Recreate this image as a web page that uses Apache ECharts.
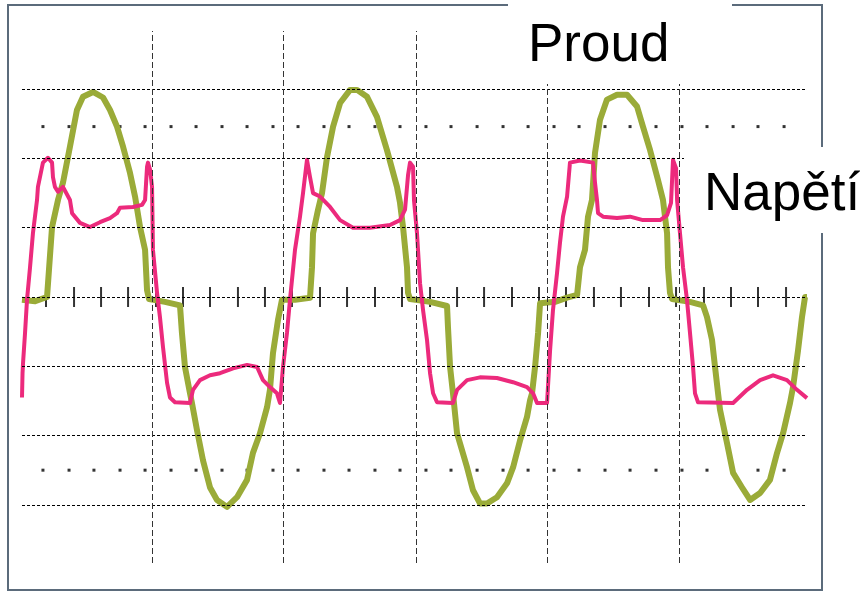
<!DOCTYPE html>
<html>
<head>
<meta charset="utf-8">
<script src="https://cdn.jsdelivr.net/npm/echarts@6/dist/echarts.min.js"></script>
<style>
  html, body { margin: 0; padding: 0; background: #fff; }
  #chart { width: 864px; height: 592px; }
</style>
</head>
<body>
<div id="chart"></div>
<script>
// osciloskop: x = časové dílky, y = napěťové dílky (střed = 0)
const gridRows = [-3, -2, -1, 0, 1, 2, 3]
const gridCols = [0.987, 1.981, 2.99, 3.992, 4.987]
const dotRows = [2.46, -2.5]
const dotCols = [0.159, 0.357, 0.546, 0.744, 0.934, 1.131, 1.321, 1.518, 1.708, 1.905,
  2.095, 2.292, 2.482, 2.679, 2.869, 3.066, 3.256, 3.454, 3.651, 3.841,
  4.038, 4.228, 4.425, 4.615, 4.812, 5.009, 5.199, 5.397, 5.586, 5.784]
const tickCols = [0.182, 0.395, 0.6, 0.805, 1.017, 1.222, 1.427, 1.639, 1.844, 2.049,
  2.262, 2.467, 2.679, 2.884, 3.097, 3.302, 3.507, 3.719, 3.924, 4.129,
  4.341, 4.546, 4.759, 4.964, 5.176, 5.381, 5.586, 5.799]

// Napětí (olivová)
const napeti = [
  [0, -0.04], [0.1, -0.06], [0.19, 0], [0.228, 1.01], [0.273, 1.40], [0.311, 1.65],
  [0.364, 2.17], [0.417, 2.70], [0.463, 2.89], [0.539, 2.96], [0.615, 2.88], [0.668, 2.70],
  [0.721, 2.46], [0.767, 2.17], [0.82, 1.79], [0.858, 1.45], [0.896, 1.01], [0.934, 0.68],
  [0.949, 0.10], [0.964, -0.03], [1.085, -0.07], [1.199, -0.12], [1.214, -0.52], [1.237, -1.01],
  [1.275, -1.39], [1.29, -1.53], [1.328, -1.92], [1.374, -2.36], [1.427, -2.75], [1.48, -2.93],
  [1.556, -3.03], [1.632, -2.89], [1.708, -2.64], [1.753, -2.25], [1.806, -1.97], [1.86, -1.59],
  [1.882, -1.34], [1.905, -0.81], [1.943, -0.33], [1.973, -0.04], [2.072, -0.04], [2.186, -0.01],
  [2.201, 0.43], [2.209, 0.92], [2.247, 1.26], [2.277, 1.50], [2.315, 2.02], [2.361, 2.46],
  [2.414, 2.80], [2.49, 2.99], [2.543, 2.99], [2.619, 2.89], [2.694, 2.60], [2.77, 2.12],
  [2.846, 1.59], [2.869, 1.36], [2.892, 1.01], [2.922, 0.43], [2.93, 0.06], [2.945, -0.03],
  [3.097, -0.07], [3.226, -0.13], [3.233, -0.43], [3.249, -1.01], [3.271, -1.39], [3.302, -1.97],
  [3.378, -2.46], [3.423, -2.79], [3.476, -2.98], [3.529, -2.98], [3.605, -2.89], [3.681, -2.69],
  [3.727, -2.46], [3.78, -2.07], [3.833, -1.73], [3.856, -1.49], [3.871, -1.39], [3.894, -1.01],
  [3.917, -0.52], [3.932, -0.09], [4.046, -0.07], [4.137, -0.01], [4.213, 0.03], [4.235, 0.43],
  [4.273, 0.68], [4.296, 1.16], [4.326, 1.40], [4.349, 2.08], [4.387, 2.56], [4.44, 2.85],
  [4.516, 2.92], [4.592, 2.92], [4.668, 2.75], [4.713, 2.46], [4.767, 2.12], [4.827, 1.69],
  [4.865, 1.40], [4.896, 0.92], [4.903, 0.43], [4.918, 0.06], [4.934, -0.03], [5.07, -0.07],
  [5.169, -0.12], [5.199, -0.29], [5.237, -0.62], [5.26, -1.01], [5.283, -1.39], [5.298, -1.63],
  [5.351, -2.11], [5.397, -2.54], [5.465, -2.75], [5.526, -2.93], [5.602, -2.83], [5.677, -2.64],
  [5.731, -2.25], [5.776, -1.97], [5.829, -1.53], [5.852, -1.30], [5.89, -0.77], [5.92, -0.29],
  [5.943, 0], [5.958, 0]
]

// Proud (růžová)
const proud = [
  [0, -1.45], [0.004, -1.10], [0.008, -0.95], [0.023, -0.52], [0.038, -0.04], [0.061, 0.43],
  [0.083, 0.92], [0.114, 1.40], [0.121, 1.59], [0.159, 1.94], [0.197, 2.01], [0.228, 1.94],
  [0.235, 1.73], [0.25, 1.59], [0.273, 1.52], [0.311, 1.59], [0.364, 1.40], [0.38, 1.21],
  [0.44, 1.07], [0.516, 1.01], [0.592, 1.08], [0.668, 1.14], [0.721, 1.21], [0.744, 1.29],
  [0.842, 1.30], [0.911, 1.33], [0.934, 1.40], [0.949, 1.88], [0.956, 1.94], [0.972, 1.84],
  [0.987, 1.59], [0.99, 1.21], [0.994, 0.68], [1.025, 0.06], [1.047, -0.29], [1.07, -0.72],
  [1.101, -1.24], [1.123, -1.45], [1.161, -1.52], [1.275, -1.53], [1.298, -1.34], [1.351, -1.20],
  [1.427, -1.13], [1.503, -1.10], [1.602, -1.03], [1.708, -0.98], [1.784, -1.01], [1.829, -1.20],
  [1.882, -1.30], [1.935, -1.39], [1.958, -1.53], [1.981, -1.01], [2.011, -0.52], [2.034, -0.04],
  [2.072, 0.68], [2.11, 1.16], [2.133, 1.50], [2.163, 1.98], [2.186, 1.73], [2.209, 1.50],
  [2.262, 1.45], [2.338, 1.30], [2.414, 1.11], [2.512, 1.00], [2.641, 1.00], [2.793, 1.04],
  [2.869, 1.11], [2.907, 1.26], [2.93, 1.76], [2.945, 1.94], [2.968, 1.88], [2.975, 1.40],
  [2.998, 0.92], [3.021, 0.20], [3.044, -0.19], [3.074, -0.62], [3.097, -1.10], [3.12, -1.39],
  [3.15, -1.52], [3.271, -1.53], [3.302, -1.34], [3.378, -1.20], [3.476, -1.16], [3.605, -1.17],
  [3.727, -1.23], [3.833, -1.30], [3.879, -1.39], [3.909, -1.53], [3.985, -1.53], [4.008, -0.77],
  [4.03, -0.19], [4.061, 0.35], [4.083, 0.78], [4.106, 1.16], [4.137, 1.45], [4.159, 1.94],
  [4.235, 1.97], [4.334, 1.94], [4.349, 1.65], [4.364, 1.40], [4.372, 1.21], [4.41, 1.16],
  [4.516, 1.14], [4.615, 1.16], [4.713, 1.11], [4.843, 1.11], [4.896, 1.18], [4.926, 1.36],
  [4.941, 1.98], [4.964, 1.86], [4.972, 1.40], [4.994, 0.92], [5.017, 0.43], [5.047, -0.04],
  [5.07, -0.52], [5.093, -1.01], [5.108, -1.39], [5.131, -1.52], [5.397, -1.53], [5.503, -1.34],
  [5.602, -1.20], [5.7, -1.13], [5.806, -1.20], [5.882, -1.34], [5.958, -1.46]
]

const COLOR_NAPETI = '#9aab38'
const COLOR_PROUD  = '#ec2a7c'
const COLOR_FRAME  = '#5b6b7b'

const dots = []
dotRows.forEach(y => dotCols.forEach(x => dots.push([x, y])))
const ticks = tickCols.map(x => [x, 0])

const chart = echarts.init(document.getElementById('chart'))

chart.setOption({
  animation: false,
  grid: { left: 22, top: 31, width: 785, height: 532 },
  xAxis: { type: 'value', min: 0, max: 5.958, show: false },
  yAxis: { type: 'value', min: -3.84, max: 3.84, show: false },
  series: [
    {
      // mřížka
      type: 'line',
      data: [],
      silent: true,
      markLine: {
        silent: true,
        symbol: 'none',
        label: { show: false },
        data: [
          ...gridRows.map(v => ({ yAxis: v, lineStyle: { color: '#000', width: 1, type: [3, 2] } })),
          ...gridCols.map(v => ({ xAxis: v, lineStyle: { color: '#333', width: 1, type: [6, 3] } })),
        ],
      },
    },
    {
      type: 'scatter',
      data: dots,
      symbol: 'rect',
      symbolSize: 3,
      itemStyle: { color: '#000' },
      silent: true,
    },
    {
      type: 'scatter',
      data: ticks,
      symbol: 'rect',
      symbolSize: [2, 20],
      itemStyle: { color: '#000' },
      silent: true,
    },
    {
      name: 'Napětí',
      type: 'line',
      data: napeti,
      symbol: 'none',
      lineStyle: { color: COLOR_NAPETI, width: 6, join: 'round' },
      silent: true,
    },
    {
      name: 'Proud',
      type: 'line',
      data: proud,
      symbol: 'none',
      lineStyle: { color: COLOR_PROUD, width: 4, join: 'round' },
      silent: true,
    },
  ],
  graphic: [
    {
      type: 'rect',
      shape: { x: 8, y: 5, width: 814, height: 585 },
      style: { fill: 'none', stroke: COLOR_FRAME, lineWidth: 2 },
      z: 10,
    },
    {
      type: 'rect',
      shape: { x: 508, y: 0, width: 224, height: 84 },
      style: { fill: '#fff' },
      z: 11,
    },
    {
      type: 'text',
      x: 528, y: 46,
      style: {
        text: 'Proud',
        font: '53px "Liberation Sans", Arial, sans-serif',
        fill: '#000',
        verticalAlign: 'middle',
      },
      z: 12,
    },
    {
      type: 'rect',
      shape: { x: 684, y: 147, width: 180, height: 86 },
      style: { fill: '#fff' },
      z: 11,
    },
    {
      type: 'text',
      x: 704, y: 195,
      style: {
        text: 'Napětí',
        font: '53px "Liberation Sans", Arial, sans-serif',
        fill: '#000',
        verticalAlign: 'middle',
      },
      z: 12,
    },
  ],
})
</script>
</body>
</html>
